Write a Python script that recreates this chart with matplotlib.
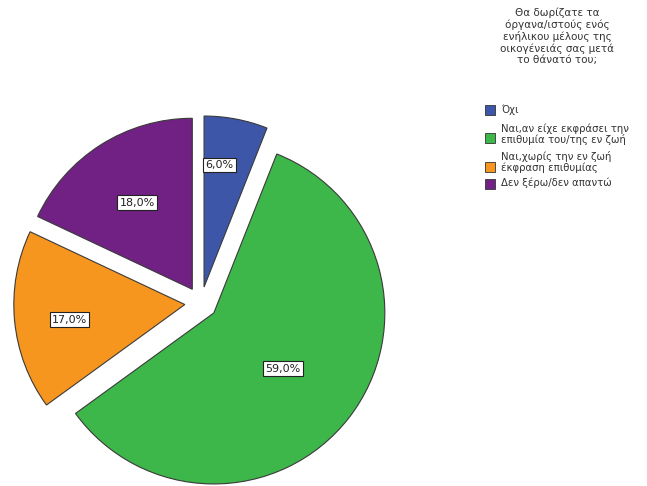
import matplotlib
matplotlib.use("Agg")
import matplotlib.pyplot as plt
from matplotlib.patches import Rectangle
import numpy as np

plt.rcParams['font.family'] = ['DejaVu Sans']

# Survey answers and their shares (%)
categories = [
    "Όχι",
    "Ναι,αν είχε εκφράσει την\nεπιθυμία του/της εν ζωή",
    "Ναι,χωρίς την εν ζωή\nέκφραση επιθυμίας",
    "Δεν ξέρω/δεν απαντώ",
]
shares = [6.0, 59.0, 17.0, 18.0]
colors = ["#3D56A8", "#3DB64A", "#F7961E", "#712183"]
legend_title = ("Θα δωρίζατε τα\nόργανα/ιστούς ενός\nενήλικου μέλους της\n"
                "οικογένειάς σας μετά\nτο θάνατό του;")

W, H = 647, 486
fig = plt.figure(figsize=(W / 100, H / 100), dpi=100)
ax = fig.add_axes([0, 0, 1, 1])

explode = [0.095] * len(shares)
wedges, _ = ax.pie(shares, colors=colors, startangle=90, counterclock=False,
                   explode=explode, radius=1.0,
                   wedgeprops=dict(edgecolor="#3a3a3a", linewidth=0.8))

# pie centre at pixel (201, 303), radius 171 px
cx, cy, R = 201, 303, 171
ax.set_aspect('auto')
ax.set_xlim(-cx / R, (W - cx) / R)
ax.set_ylim(-(H - cy) / R, cy / R)
ax.axis('off')

# percentage labels: distance from wedge centre and angular offset from bisector
label_dist = [0.72, 0.52, 0.68, 0.60]
label_rot = [3.5, -1.0, 2.0, 0.0]
for w, v, d, r in zip(wedges, shares, label_dist, label_rot):
    ang = np.deg2rad((w.theta1 + w.theta2) / 2 + r)
    ox, oy = w.center
    x = ox + d * np.cos(ang)
    y = oy + d * np.sin(ang)
    ax.text(x, y, f"{v:.1f}%".replace(".", ","), ha="center", va="center",
            fontsize=8, color="#222222",
            bbox=dict(boxstyle="square,pad=0.2", fc="white", ec="#222222", lw=0.8))

# legend block on the right
fig.text(557 / W, 1 - 8 / H, legend_title, ha="center", va="top",
         fontsize=7.5, color="#333333", linespacing=1.13)

entry_y = [110, 134, 162, 183]
box_y = [110, 138, 167, 184]
for lab, col, y, by in zip(categories, colors, entry_y, box_y):
    fig.patches.append(Rectangle((485 / W, 1 - (by + 5) / H), 10 / W, 10 / H,
                                 transform=fig.transFigure, fc=col, ec="#333333",
                                 lw=0.6))
    fig.text(501 / W, 1 - y / H, lab, ha="left", va="center",
             fontsize=7.3, color="#333333", linespacing=0.95)

fig.savefig("out.png", dpi=100)
